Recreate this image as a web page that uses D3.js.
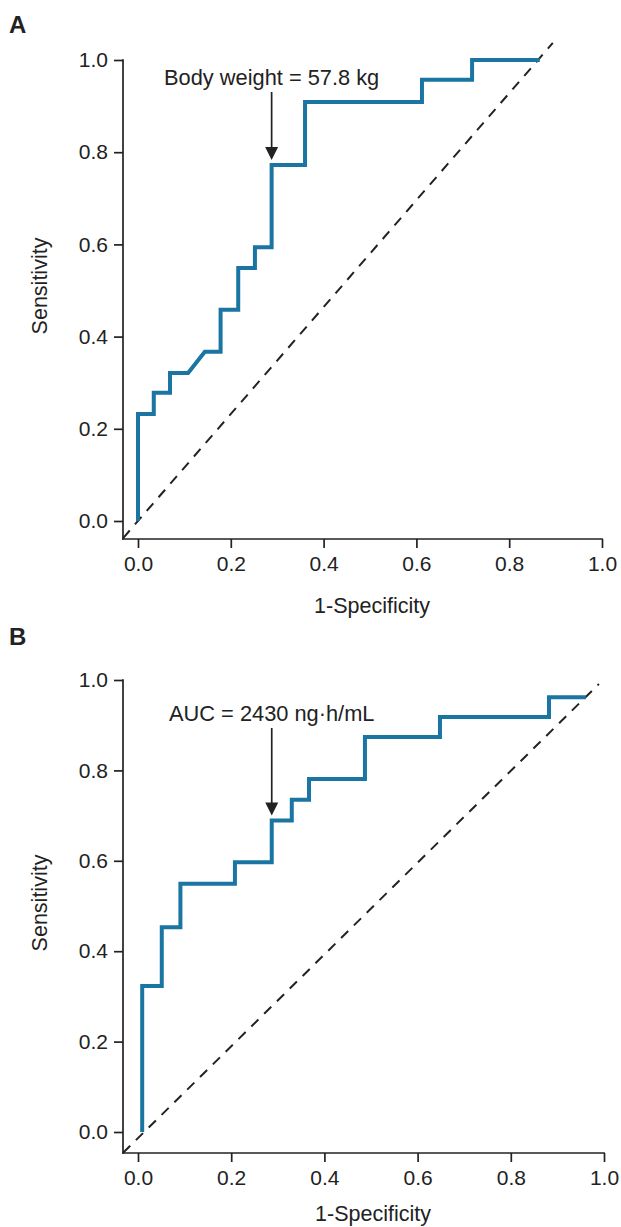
<!DOCTYPE html>
<html><head><meta charset="utf-8">
<script src="https://cdn.jsdelivr.net/npm/d3@7"></script>
<style>
body{margin:0;background:#fff;}
svg{display:block;}
text{font-family:"Liberation Sans",Arial,sans-serif;fill:#222;}
</style></head>
<body>
<svg id="chart" width="621" height="1227"></svg>
<script>
// ---- data ----
const tickValues = [0, 0.2, 0.4, 0.6, 0.8, 1.0];
const panelLabels = ["A", "B"];
const xAxisTitle = "1-Specificity";
const yAxisTitle = "Sensitivity";

const rocA_fpr = [0, 0, 0.034, 0.034, 0.069, 0.069, 0.108, 0.144, 0.178, 0.178, 0.216, 0.216, 0.252, 0.252, 0.288, 0.288, 0.360, 0.360, 0.612, 0.612, 0.720, 0.720, 0.866];
const rocA_tpr = [0, 0.232, 0.232, 0.278, 0.278, 0.321, 0.321, 0.367, 0.367, 0.458, 0.458, 0.549, 0.549, 0.594, 0.594, 0.772, 0.772, 0.909, 0.909, 0.957, 0.957, 1.0, 1.0];
const refA = [[-0.032, -0.037], [0.894, 1.037]];
const annA = {x: 0.288, y: 0.772, label: "Body weight = 57.8 kg"};

const rocB_fpr = [0.009, 0.009, 0.051, 0.051, 0.091, 0.091, 0.208, 0.208, 0.287, 0.287, 0.330, 0.330, 0.367, 0.367, 0.487, 0.487, 0.648, 0.648, 0.882, 0.882, 0.961];
const rocB_tpr = [0, 0.323, 0.323, 0.453, 0.453, 0.549, 0.549, 0.597, 0.597, 0.689, 0.689, 0.735, 0.735, 0.781, 0.781, 0.874, 0.874, 0.918, 0.918, 0.962, 0.962];
const refB = [[-0.032, -0.046], [0.989, 0.991]];
const annB = {x: 0.287, y: 0.689, label: "AUC = 2430 ng\u00b7h/mL"};

// ---- layout ----
const panels = [
  {label: panelLabels[0], fpr: rocA_fpr, tpr: rocA_tpr, ref: refA, ann: annA,
   x0: 138, x1: 602, yTop: 60, yZero: 521, axisY: 539, axisX: 123,
   labelY: 33, yTitleY: 286, xTitleY: 613, arrowTop: 92, textY: 85},
  {label: panelLabels[1], fpr: rocB_fpr, tpr: rocB_tpr, ref: refB, ann: annB,
   x0: 138, x1: 604, yTop: 680, yZero: 1132, axisY: 1153, axisX: 123,
   labelY: 645, yTitleY: 903, xTitleY: 1221, arrowTop: 728, textY: 721}
];

const svg = d3.select("#chart");
const fmt = d3.format(".1f");
const ink = "#222";
const curveColor = "#1a75a2";
const fs = 21;

panels.forEach(p => {
  const x = d3.scaleLinear().domain([0, 1]).range([p.x0, p.x1]);
  const y = d3.scaleLinear().domain([0, 1]).range([p.yZero, p.yTop]);
  const g = svg.append("g");

  // panel letter
  g.append("text").attr("x", 9).attr("y", p.labelY)
    .attr("font-size", 24).attr("font-weight", "bold").text(p.label);

  // y axis
  const yAx = g.append("g").attr("transform", `translate(${p.axisX},0)`)
    .call(d3.axisLeft(y).tickValues(tickValues).tickFormat(fmt).tickSize(9).tickPadding(6));
  yAx.select(".domain").remove();
  yAx.selectAll("line").attr("stroke", ink).attr("stroke-width", 1.7);
  yAx.selectAll("text").attr("font-size", fs).attr("fill", ink).attr("font-family", "Liberation Sans, Arial, sans-serif");

  // x axis
  const xAx = g.append("g").attr("transform", `translate(0,${p.axisY})`)
    .call(d3.axisBottom(x).tickValues(tickValues).tickFormat(fmt).tickSize(9).tickPadding(8));
  xAx.select(".domain").remove();
  xAx.selectAll("line").attr("stroke", ink).attr("stroke-width", 1.7);
  xAx.selectAll("text").attr("font-size", fs).attr("fill", ink).attr("font-family", "Liberation Sans, Arial, sans-serif");

  // axis lines
  g.append("line").attr("x1", p.axisX).attr("x2", p.axisX)
    .attr("y1", y(1) - 0.85).attr("y2", p.axisY + 0.85)
    .attr("stroke", ink).attr("stroke-width", 1.7);
  g.append("line").attr("x1", p.axisX - 0.85).attr("x2", x(1) + 0.85)
    .attr("y1", p.axisY).attr("y2", p.axisY)
    .attr("stroke", ink).attr("stroke-width", 1.7);

  // titles
  g.append("text").attr("transform", `translate(47,${p.yTitleY}) rotate(-90)`)
    .attr("text-anchor", "middle").attr("font-size", 21.5).text(yAxisTitle);
  g.append("text").attr("x", (x(0) + x(1)) / 2 + 2).attr("y", p.xTitleY)
    .attr("text-anchor", "middle").attr("font-size", 21.5).text(xAxisTitle);

  // reference dashed line
  g.append("path")
    .attr("d", d3.line().x(d => x(d[0])).y(d => y(d[1]))(p.ref))
    .attr("fill", "none").attr("stroke", ink).attr("stroke-width", 2)
    .attr("stroke-dasharray", "10,8");

  // ROC curve
  const pts = p.fpr.map((v, i) => [v, p.tpr[i]]);
  g.append("path")
    .attr("d", d3.line().x(d => x(d[0])).y(d => y(d[1]))(pts))
    .attr("fill", "none").attr("stroke", curveColor).attr("stroke-width", 4)
    .attr("stroke-linejoin", "miter");

  // annotation
  const ax = x(p.ann.x);
  const tipY = y(p.ann.y) - 5;
  g.append("line").attr("x1", ax).attr("x2", ax)
    .attr("y1", p.arrowTop).attr("y2", tipY - 8)
    .attr("stroke", ink).attr("stroke-width", 1.7);
  g.append("path")
    .attr("d", `M${ax - 6.5},${tipY - 13} L${ax + 6.5},${tipY - 13} L${ax},${tipY} Z`)
    .attr("fill", ink);
  g.append("text").attr("x", ax).attr("y", p.textY)
    .attr("text-anchor", "middle").attr("font-size", 21.8).text(p.ann.label);
});
</script>
</body></html>
